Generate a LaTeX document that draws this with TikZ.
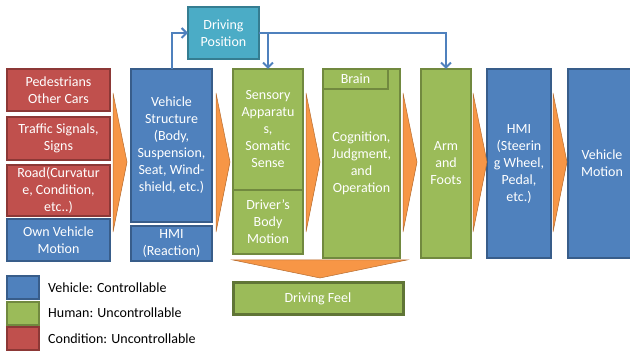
\documentclass[tikz,border=0pt]{standalone}
\usepackage{fontspec}
\setmainfont{Carlito}
\usetikzlibrary{arrows.meta}

\definecolor{blau}{HTML}{4F81BD}
\definecolor{blaurand}{HTML}{385D8A}
\definecolor{rot}{HTML}{C0504D}
\definecolor{rotrand}{HTML}{8C3836}
\definecolor{gruen}{HTML}{9BBB59}
\definecolor{gruenrand}{HTML}{71893F}
\definecolor{tuerkis}{HTML}{4BACC6}
\definecolor{tuerkisrand}{HTML}{357D91}
\definecolor{orangeton}{HTML}{F79646}
\definecolor{orangerand}{HTML}{B66D31}

\begin{document}
\begin{tikzpicture}[x=1pt,y=-1pt,>={Straight Barb[length=5pt,width=10pt]},
	feld/.style={draw, line width=1.3pt, inner sep=0pt, outer sep=0pt,
		align=center, text=white, font=\fontsize{14}{17}\selectfont},
	fzg/.style={feld, fill=blau, draw=blaurand},
	mensch/.style={feld, fill=gruen, draw=gruenrand},
	bedingung/.style={feld, fill=rot, draw=rotrand},
	haltung/.style={feld, fill=tuerkis, draw=tuerkisrand},
	legende/.style={anchor=west, inner sep=0pt, font=\fontsize{14}{17}\selectfont},
	verbindung/.style={->, draw=blau, line width=2pt}]

\useasboundingbox (0,0) rectangle (630,352);

% box: name, x1, y1, x2, y2, style, text
\def\kasten#1#2#3#4#5#6#7{
	\node[#6, minimum width={(#4-#2)*1pt}, minimum height={(#5-#3)*1pt}]
		(#1) at ({(#2+#4)/2},{(#3+#5)/2}) {#7};
}

% orange chevron at x
\def\pfeil#1{
	\filldraw[fill=orangeton, draw=orangerand, line width=0.5pt]
		(#1,93) -- ({#1+14},162) -- (#1,232) -- cycle;
}

% conditions
\kasten{fussg}{7}{69}{110}{111}{bedingung}{Pedestrians\\Other Cars}
\kasten{signal}{7}{117}{110}{160}{bedingung}{Traffic Signals,\\Signs}
\kasten{strasse}{7}{165}{110}{216}{bedingung}{Road(Curvatur\\e, Condition,\\etc..)}
\kasten{eigen}{7}{219}{110}{261}{fzg}{Own Vehicle\\Motion}

% vehicle
\kasten{aufbau}{131}{69}{212}{222}{fzg}{Vehicle\\Structure\\(Body,\\Suspension,\\Seat, Wind-\\shield, etc.)}
\kasten{hmire}{131}{226}{212}{261}{fzg}{HMI\\(Reaction)}

% driving position
\kasten{position}{188}{7}{259}{59}{haltung}{Driving\\Position}

% human
\kasten{sinne}{233}{69}{303}{190}{mensch}{Sensory\\Apparatu\\s,\\Somatic\\Sense}
\kasten{koerper}{233}{190}{303}{254}{mensch}{Driver’s\\Body\\Motion}
\kasten{gehirn}{323}{69}{400}{258}{mensch}{Cognition,\\Judgment,\\and\\Operation}
\kasten{brain}{323}{69}{388}{89}{mensch}{Brain}
\kasten{arm}{421}{69}{471}{258}{mensch}{Arm\\and\\Foots}

% vehicle again
\kasten{hmist}{487}{69}{551}{258}{fzg}{HMI\\(Steerin\\g Wheel,\\Pedal,\\etc.)}
\kasten{bewegung}{568}{69}{636}{258}{fzg}{Vehicle\\Motion}

% driving feel
\kasten{gefuehl}{233}{283}{403}{315}{mensch}{Driving Feel}
\draw[gruenrand!85!black, line width=3pt] (gefuehl.south west) rectangle (gefuehl.north east);

% chevrons
\foreach \x in {113,216,306,403,473,553}{
	\pfeil{\x}
}
\filldraw[fill=orangeton, draw=orangerand, line width=0.5pt]
	(233,260) -- (407,260) -- (320,278) -- cycle;

% connectors
\draw[verbindung] (aufbau.north) |- (position.west);
\draw[verbindung] (position.east) -| (sinne.north);
\draw[verbindung] (position.east) -| (arm.north);

% legend
\kasten{legfzg}{7}{276}{39}{299}{fzg}{}
\kasten{legmensch}{7}{302}{39}{325}{mensch}{}
\kasten{legbed}{7}{327}{39}{350}{bedingung}{}
\node[legende] (txtfzg) at (48,288) {Vehicle: Controllable};
\node[legende] (txtmensch) at (48,313) {Human: Uncontrollable};
\node[legende] (txtbed) at (48,339) {Condition: Uncontrollable};

\end{tikzpicture}
\end{document}
